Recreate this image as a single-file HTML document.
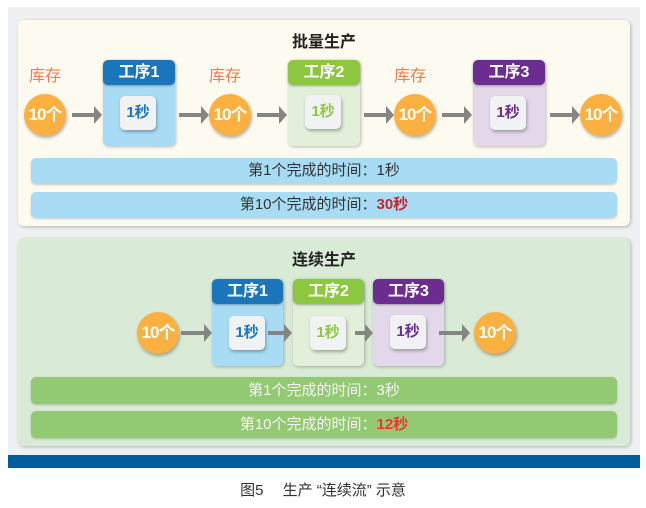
<!DOCTYPE html>
<html><head><meta charset="utf-8"><style>
*{margin:0;padding:0;box-sizing:border-box}
body{width:646px;height:508px;background:#fff;position:relative;font-family:"Liberation Sans","Noto Sans CJK SC",sans-serif;overflow:hidden}
.a{position:absolute}
.panel{border-radius:6px;box-shadow:1px 1px 3px rgba(0,0,0,.25)}
.title{font-weight:bold;font-size:16px;color:#222;text-align:center;width:100px}
.circ{width:42px;height:42px;border-radius:50%;background:#fbb040;color:#fff;font-size:17px;font-weight:bold;text-align:center;line-height:42px;box-shadow:1px 2px 3px rgba(0,0,0,.3);letter-spacing:-1px}
.lbl{color:#f07b55;font-size:16px}
.proc{border-radius:5px;box-shadow:1px 1px 3px rgba(0,0,0,.25)}
.hd{position:absolute;left:0;top:0;right:0;height:25px;border-radius:5px;color:#fff;font-weight:bold;font-size:16px;text-align:center;line-height:25px;box-shadow:0 1px 2px rgba(0,0,0,.3)}
.in{position:absolute;width:36px;height:34px;border-radius:5px;background:#f1f2f4;font-weight:bold;font-size:15px;text-align:center;line-height:34px;box-shadow:1px 2px 3px rgba(0,0,0,.3)}
.bar{border-radius:5px;font-size:15px;text-align:center;box-shadow:0 1px 2px rgba(0,0,0,.2)}
</style></head><body>
<div class="a" style="left:8px;top:7px;width:632px;height:448px;background:#eef0f2"></div>
<div class="a" style="left:8px;top:455px;width:632px;height:13px;background:#005e9e"></div>
<div class="a" style="left:0;top:479px;width:646px;text-align:center;font-size:15px;color:#333">图5　 生产 “连续流” 示意</div>

<!-- top panel -->
<div class="a panel" style="left:18px;top:20px;width:612px;height:206px;background:#fdfbef"></div>
<div class="a title" style="left:274px;top:28px">批量生产</div>
<div class="a lbl" style="left:29px;top:62px">库存</div>
<div class="a lbl" style="left:209px;top:62px">库存</div>
<div class="a lbl" style="left:394px;top:62px">库存</div>
<div class="a circ" style="left:24px;top:94px">10个</div>
<div class="a circ" style="left:209px;top:94px">10个</div>
<div class="a circ" style="left:394px;top:94px">10个</div>
<div class="a circ" style="left:580px;top:94px">10个</div>
<div class="a proc" style="left:103px;top:60px;width:72px;height:86px;background:#a8dcf5"><div class="hd" style="background:#1a75bb">工序1</div><div class="in" style="left:17px;top:36px;color:#1a75bb">1秒</div></div>
<div class="a proc" style="left:288px;top:60px;width:72px;height:86px;background:#e2efd9"><div class="hd" style="background:#8dc63f">工序2</div><div class="in" style="left:17px;top:35px;color:#8dc63f">1秒</div></div>
<div class="a proc" style="left:473px;top:60px;width:72px;height:86px;background:#e3d8ea"><div class="hd" style="background:#6b2d90">工序3</div><div class="in" style="left:17px;top:36px;color:#6b2d90">1秒</div></div>
<div class="a bar" style="left:31px;top:158px;width:586px;height:26px;line-height:26px;background:#a8dcf5;color:#333">第1个完成的时间：1秒</div>
<div class="a bar" style="left:31px;top:192px;width:586px;height:26px;line-height:26px;background:#a8dcf5;color:#333">第10个完成的时间：<b style="color:#c0282f">30秒</b></div>

<!-- bottom panel -->
<div class="a panel" style="left:18px;top:238px;width:612px;height:208px;background:#d9ead6"></div>
<div class="a title" style="left:274px;top:246px">连续生产</div>
<div class="a proc" style="left:212px;top:279px;width:71px;height:87px;background:#a8dcf5"><div class="hd" style="background:#1a75bb">工序1</div><div class="in" style="left:17px;top:37px;color:#1a75bb">1秒</div></div>
<div class="a proc" style="left:293px;top:279px;width:71px;height:87px;background:#e2efd9"><div class="hd" style="background:#8dc63f">工序2</div><div class="in" style="left:17px;top:37px;color:#8dc63f">1秒</div></div>
<div class="a proc" style="left:373px;top:279px;width:71px;height:87px;background:#e3d8ea"><div class="hd" style="background:#6b2d90">工序3</div><div class="in" style="left:17px;top:36px;color:#6b2d90">1秒</div></div>
<div class="a circ" style="left:137px;top:312px">10个</div>
<div class="a circ" style="left:474px;top:312px">10个</div>
<div class="a bar" style="left:31px;top:377px;width:586px;height:27px;line-height:27px;background:#93c972;color:#f4f4f4">第1个完成的时间：3秒</div>
<div class="a bar" style="left:31px;top:411px;width:586px;height:27px;line-height:27px;background:#93c972;color:#f4f4f4">第10个完成的时间：<b style="color:#e8392d">12秒</b></div>

<svg class="a" style="left:0;top:0;z-index:5" width="646" height="508">
<g fill="#858585">
<path d="M72 113h22v-7l8 9-8 9v-7h-22z"/>
<path d="M179 113h22v-7l8 9-8 9v-7h-22z"/>
<path d="M257 113h22v-7l8 9-8 9v-7h-22z"/>
<path d="M364 113h22v-7l8 9-8 9v-7h-22z"/>
<path d="M442 113h22v-7l8 9-8 9v-7h-22z"/>
<path d="M550 113h22v-7l8 9-8 9v-7h-22z"/>
<path d="M181 331h23v-7l8 9-8 9v-7h-23z"/>
<path d="M268 331h16v-7l8 9-8 9v-7h-16z"/>
<path d="M355 331h10v-7l8 9-8 9v-7h-10z"/>
<path d="M439 331h23v-7l8 9-8 9v-7h-23z"/>
</g></svg>
</body></html>
